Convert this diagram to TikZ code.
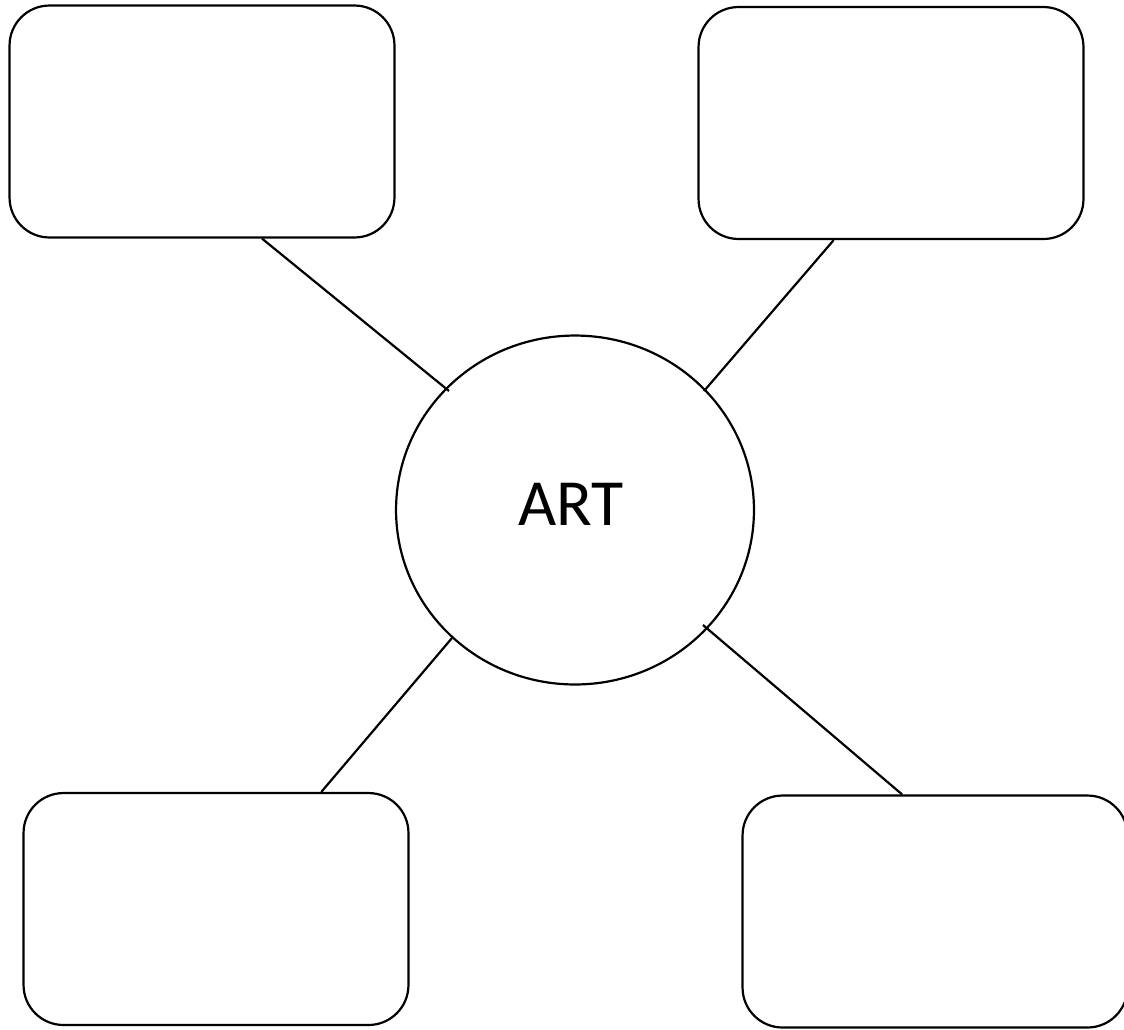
\documentclass[tikz,border=0pt]{standalone}
\usepackage{fontspec}
\setmainfont{Carlito}
\usetikzlibrary{shapes.geometric,calc}
\tikzset{
  box/.style={draw,rounded corners=0.8cm,minimum width=7.7cm,minimum height=4.64cm,line width=1.25pt},
  artcircle/.style={draw,ellipse,minimum width=7.16cm,minimum height=6.98cm,line width=1.25pt},
  link/.style={line width=1.25pt}
}
\begin{document}
\begin{tikzpicture}[x=0.02cm,y=-0.02cm]
\useasboundingbox (0,0) rectangle (1124,1029);
\clip (0,0) rectangle (1124,1029);

\node[box] (tl) at (202,121.5) {};
\node[box] (tr) at (891,123) {};
\node[box] (bl) at (216,909) {};
\node[box] (br) at (935,911.5) {};

\node[artcircle] (art) at (575,510) {};
\node[font=\fontsize{37.5}{44}\selectfont] (artlabel) at (571,504) {ART};

% ends just past the circle
\coordinate (c1) at (449,391);
\coordinate (c2) at (704,391);
\coordinate (c3) at (452,638);
\coordinate (c4) at (703,625);

\draw[link] ($(tl.south west)!0.655!(tl.south east)$) -- (c1);
\draw[link] ($(tr.south west)!0.352!(tr.south east)$) -- (c2);
\draw[link] ($(bl.north west)!0.772!(bl.north east)$) -- (c3);
\draw[link] ($(br.north west)!0.415!(br.north east)$) -- (c4);
\end{tikzpicture}
\end{document}
